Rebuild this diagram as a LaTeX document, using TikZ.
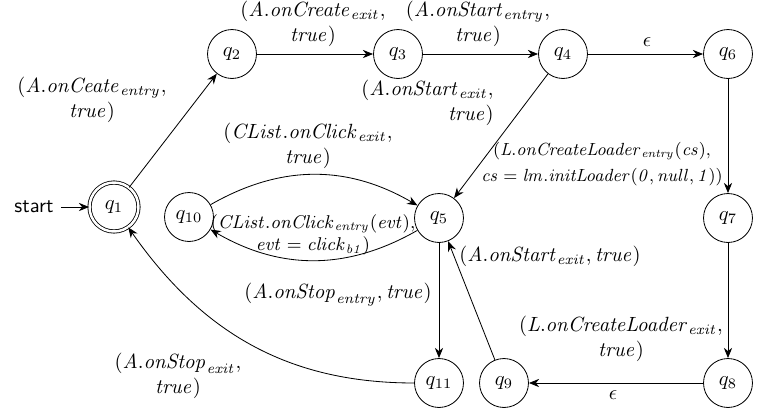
\documentclass[tikz,border=0pt]{standalone}
\usepackage{graphicx}
\usetikzlibrary{arrows.meta}
\begin{document}
\begin{tikzpicture}[x=0.486pt,y=0.486pt,
  state/.style={circle,draw,minimum size=23.8pt,inner sep=0pt},
  accept/.style={state,double,double distance=1.2pt},
  edge/.style={-{Stealth[length=5pt,width=4pt]}},
  lbl/.style={align=center,inner sep=0pt}]
\useasboundingbox (0,0) rectangle (765,-414);
% states
\node[accept] (q1) at (114,-207) {$q_1$};
\node[state] (q2) at (232,-54) {$q_2$};
\node[state] (q3) at (398,-54) {$q_3$};
\node[state] (q4) at (563,-54) {$q_4$};
\node[state] (q6) at (728,-54) {$q_6$};
\node[state] (q5) at (439,-218) {$q_5$};
\node[state] (q10) at (189,-217) {$q_{10}$};
\node[state] (q7) at (728,-218) {$q_7$};
\node[state] (q8) at (728,-383) {$q_8$};
\node[state] (q9) at (504,-383) {$q_9$};
\node[state] (q11) at (439,-383) {$q_{11}$};
\node[font=\sffamily] (start) at (34,-207) {start};
% edges
\draw[edge] (start) -- (q1);
\draw[edge] (q1) -- (q2);
\draw[edge] (q2) -- (q3);
\draw[edge] (q3) -- (q4);
\draw[edge] (q4) -- (q6);
\draw[edge] (q4) -- (q5);
\draw[edge] (q6) -- (q7);
\draw[edge] (q7) -- (q8);
\draw[edge] (q8) -- (q9);
\draw[edge] (q9) -- (q5);
\draw[edge] (q5) -- (q11);
\draw[edge] (q10) to[bend left=30] (q5);
\draw[edge] (q5) to[bend left=30] (q10);
\draw[edge] (q11) to[out=180,in=-55] (q1);
% labels
\node[lbl] (l12) at (92,-100) {$(\mathit{A.onCeate}_{\mathit{entry}},$\\$\mathit{true})$};
\node[lbl] (l23) at (313,-24) {$(\mathit{A.onCreate}_{\mathit{exit}},$\\$\mathit{true})$};
\node[lbl] (l34) at (478,-24) {$(\mathit{A.onStart}_{\mathit{entry}},$\\$\mathit{true})$};
\node[lbl] (l46) at (647,-42) {$\epsilon$};
\node[lbl,align=right,anchor=east] (l45) at (494,-103) {$(\mathit{A.onStart}_{\mathit{exit}},$\\$\mathit{true})$};
\node[lbl] (l67) at (602,-164) {\scalebox{0.95}{\small\begin{tabular}{@{}c@{}}$(\mathit{L.onCreateLoader}_{\mathit{entry}}(\mathit{cs}),$\\[2pt]$\mathit{cs} = \mathit{lm.initLoader}(\mathit{0}, \mathit{null}, \mathit{1}))$\end{tabular}}};
\node[lbl] (l78) at (621,-339) {$(\mathit{L.onCreateLoader}_{\mathit{exit}},$\\$\mathit{true})$};
\node[lbl] (l105) at (308,-146) {$(\mathit{CList.onClick}_{\mathit{exit}},$\\$\mathit{true})$};
\node[lbl,font=\small] (l510) at (313,-235) {$(\mathit{CList.onClick}_{\mathit{entry}}(\mathit{evt}),$\\$\mathit{evt} = \mathit{click}_{\mathit{b1}})$};
\node[lbl] (l511) at (338,-295) {$(\mathit{A.onStop}_{\mathit{entry}}, \mathit{true})$};
\node[lbl] (l111) at (178,-376) {$(\mathit{A.onStop}_{\mathit{exit}},$\\$\mathit{true})$};
\node[lbl] (l89) at (613,-395) {$\epsilon$};
\node[lbl] (l95) at (550,-256) {$(\mathit{A.onStart}_{\mathit{exit}}, \mathit{true})$};
\end{tikzpicture}
\end{document}
